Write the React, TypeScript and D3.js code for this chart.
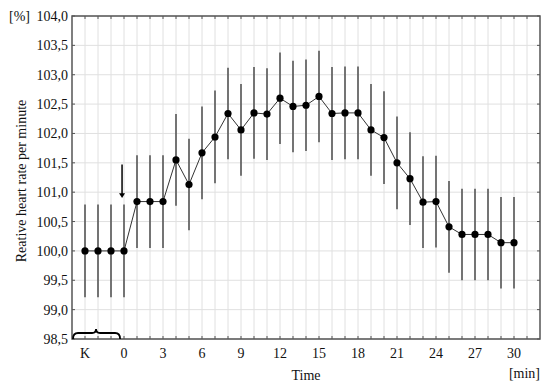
import React from "react";
import * as d3 from "d3";

const times = [-3, -2, -1, 0, 1, 2, 3, 4, 5, 6, 7, 8, 9, 10, 11, 12, 13, 14, 15, 16, 17, 18, 19, 20, 21, 22, 23, 24, 25, 26, 27, 28, 29, 30];
const means = [100.0, 100.0, 100.0, 100.0, 100.84, 100.84, 100.84, 101.55, 101.13, 101.67, 101.94, 102.34, 102.06, 102.35, 102.33, 102.6, 102.46, 102.48, 102.63, 102.34, 102.35, 102.35, 102.06, 101.93, 101.5, 101.23, 100.83, 100.84, 100.41, 100.28, 100.28, 100.28, 100.14, 100.14];
const errs = [0.79, 0.79, 0.79, 0.79, 0.79, 0.79, 0.79, 0.78, 0.78, 0.79, 0.79, 0.78, 0.78, 0.78, 0.78, 0.78, 0.78, 0.78, 0.78, 0.79, 0.79, 0.79, 0.78, 0.79, 0.79, 0.79, 0.78, 0.78, 0.78, 0.78, 0.78, 0.78, 0.78, 0.78];
const xTicks = [-3, 0, 3, 6, 9, 12, 15, 18, 21, 24, 27, 30];
const yTicks = [98.5, 99.0, 99.5, 100.0, 100.5, 101.0, 101.5, 102.0, 102.5, 103.0, 103.5, 104.0];

const W = 550, H = 386;
const L = 72, R = 540, T = 16, B = 339;
const FONT = "Liberation Serif, Times New Roman, Times, serif";

export default function App() {
  const x = d3.scaleLinear().domain([-4, 32]).range([L, R]);
  const y = d3.scaleLinear().domain([98.5, 104.0]).range([B, T]);
  const gridX = d3.range(-3, 32);
  const gridY = yTicks;
  const line = d3.line<number>().x((_, i) => x(times[i])).y((d) => y(d));
  const fmt = (v: number) => v.toFixed(1).replace(".", ",");

  const bx0 = x(-4) + 1, bx1 = x(-0.3), bm = x(-2.15);
  const by = y(98.5) - 6, btop = y(98.5) - 10, bbot = y(98.5);
  const brace = `M${bx0},${bbot} Q${bx0},${by} ${bx0 + 5},${by} L${bm - 4},${by} Q${bm},${by} ${bm},${btop} Q${bm},${by} ${bm + 4},${by} L${bx1 - 5},${by} Q${bx1},${by} ${bx1},${bbot}`;

  const txt = { fontFamily: FONT, fontSize: "14px", fill: "#111" } as React.CSSProperties;

  return (
    <svg width={W} height={H} style={{ position: "absolute", left: 0, top: 0, background: "#fff" }}>
      <rect x={0} y={0} width={W} height={H} fill="#fff" />
      {gridX.map((g) => (
        <line key={"gx" + g} x1={x(g)} x2={x(g)} y1={T} y2={B} stroke="#e0e0e0" strokeWidth={1} />
      ))}
      {gridY.map((g) => (
        <line key={"gy" + g} x1={L} x2={R} y1={y(g)} y2={y(g)} stroke="#e0e0e0" strokeWidth={1} />
      ))}
      {gridX.map((g) => (
        <g key={"tx" + g}>
          <line x1={x(g)} x2={x(g)} y1={T} y2={T + 3} stroke="#555" />
          <line x1={x(g)} x2={x(g)} y1={B} y2={B - 3} stroke="#555" />
        </g>
      ))}
      {gridY.map((g) => (
        <g key={"ty" + g}>
          <line x1={L} x2={L + 3} y1={y(g)} y2={y(g)} stroke="#555" />
          <line x1={R} x2={R - 3} y1={y(g)} y2={y(g)} stroke="#555" />
        </g>
      ))}
      <rect x={L} y={T} width={R - L} height={B - T} fill="none" stroke="#555" strokeWidth={1.5} />
      {times.map((t, i) => (
        <line key={"e" + i} x1={x(t)} x2={x(t)} y1={y(means[i] - errs[i])} y2={y(means[i] + errs[i])} stroke="#555" strokeWidth={1.6} />
      ))}
      <path d={line(means) || ""} fill="none" stroke="#333" strokeWidth={1} />
      {times.map((t, i) => (
        <circle key={"p" + i} cx={x(t)} cy={y(means[i])} r={3.6} fill="#000" />
      ))}
      <line x1={x(-0.15)} x2={x(-0.15)} y1={y(101.47)} y2={y(100.96)} stroke="#000" strokeWidth={1.5} />
      <path d={`M${x(-0.15) - 3},${y(100.98)} L${x(-0.15) + 3},${y(100.98)} L${x(-0.15)},${y(100.9)} Z`} fill="#000" />
      <path d={brace} fill="none" stroke="#000" strokeWidth={1.8} />
      {yTicks.map((v) => (
        <text key={"yl" + v} x={L - 4} y={y(v) + 5} textAnchor="end" style={txt}>{fmt(v)}</text>
      ))}
      {xTicks.map((v) => (
        <text key={"xl" + v} x={x(v)} y={358} textAnchor="middle" style={txt}>{v === -3 ? "K" : String(v)}</text>
      ))}
      <text x={9} y={21} style={txt}>[%]</text>
      <text x={(L + R) / 2} y={380} textAnchor="middle" style={txt}>Time</text>
      <text x={R} y={378} textAnchor="end" style={txt}>[min]</text>
      <text transform={`translate(26,${181}) rotate(-90)`} textAnchor="middle" style={txt}>Reative heart rate per minute</text>
    </svg>
  );
}
